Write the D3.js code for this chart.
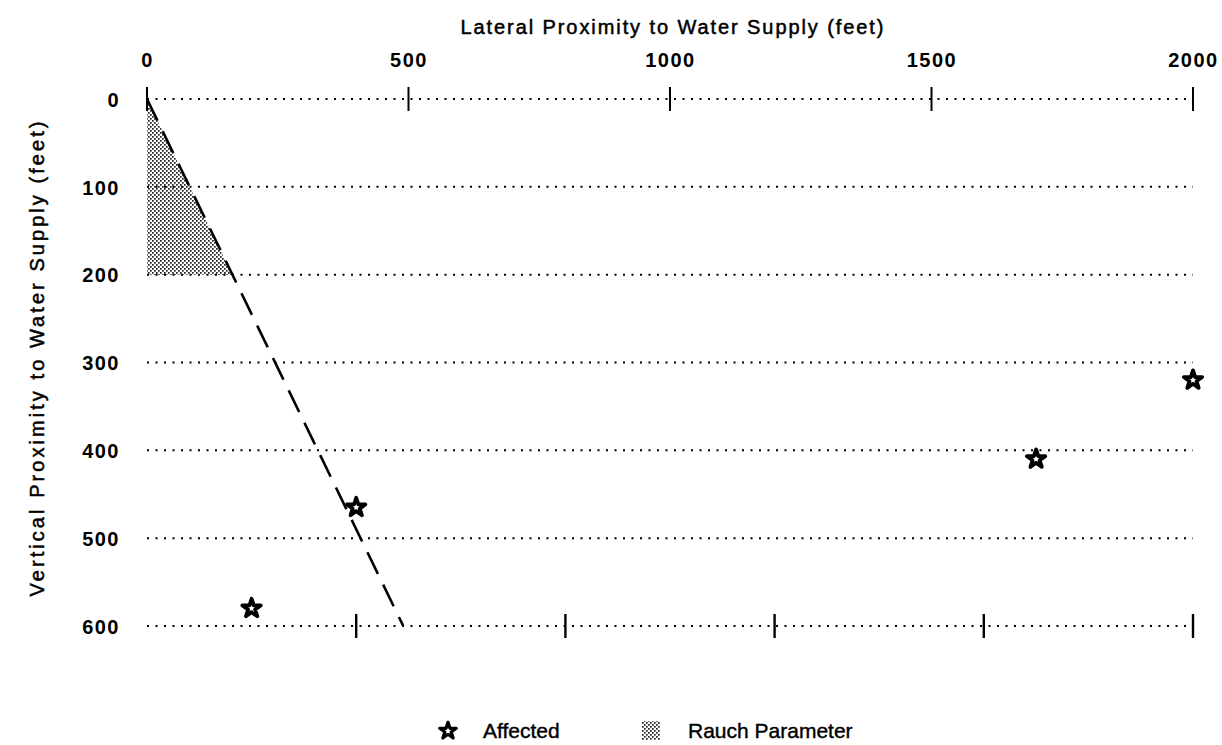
<!DOCTYPE html>
<html><head><meta charset="utf-8">
<script src="https://cdn.jsdelivr.net/npm/d3@7"></script>
<style>
body{margin:0;background:#fff;}
text{font-family:"Liberation Sans",Arial,Helvetica,sans-serif;fill:#000;}
</style></head>
<body><svg id="chart" width="1222" height="745"></svg>
<script>
// ---- data ----
const lateralTicks = [0, 500, 1000, 1500, 2000];
const bottomTicks = [400, 800, 1200, 1600, 2000];
const verticalTicks = [0, 100, 200, 300, 400, 500, 600];
const affectedLateral = [200, 400, 1700, 2000];
const affectedVertical = [580, 465, 410, 320];
const rauchLateral = [0, 0, 163];
const rauchVertical = [0, 200, 200];
const dashLateral = [0, 490];
const dashVertical = [0, 600];
const xTitle = "Lateral Proximity to Water Supply (feet)";
const yTitle = "Vertical Proximity to Water Supply (feet)";
const legendLabels = ["Affected", "Rauch Parameter"];

const svg = d3.select("#chart");
const x = d3.scaleLinear().domain([0, 2000]).range([147, 1193]);
const y = d3.scaleLinear().domain([0, 600]).range([99, 626]);

// stipple pattern
const defs = svg.append("defs");
const pat = defs.append("pattern").attr("id", "stip").attr("patternUnits", "userSpaceOnUse")
  .attr("width", 4).attr("height", 4);
pat.append("rect").attr("width", 4).attr("height", 4).attr("fill", "#fff");
pat.append("rect").attr("x", 0).attr("y", 0).attr("width", 1.7).attr("height", 1.7).attr("fill", "#222");
pat.append("rect").attr("x", 2).attr("y", 2).attr("width", 1.7).attr("height", 1.7).attr("fill", "#222");

// shaded Rauch region
svg.append("path")
  .attr("d", d3.line()(rauchLateral.map((d, i) => [x(d), y(rauchVertical[i])])) + "Z")
  .attr("fill", "url(#stip)");

// grid dotted lines
svg.append("g").selectAll("line").data(verticalTicks).join("line")
  .attr("x1", x(0)).attr("x2", x(2000))
  .attr("y1", d => y(d)).attr("y2", d => y(d))
  .attr("stroke", "#000").attr("stroke-width", 2).attr("stroke-dasharray", "2,6.5");

// top axis
const topAxis = d3.axisTop(x).tickValues(lateralTicks).tickSize(0).tickPadding(0).tickFormat(d3.format("d"));
const gTop = svg.append("g").attr("transform", `translate(0,${y(0)})`).call(topAxis);
gTop.select(".domain").remove();
gTop.selectAll("text").attr("y", 67 - y(0)).attr("dy", 0)
  .style("font-size", "20px").style("font-weight", "bold").style("letter-spacing", "1.5px").attr("fill", "#000");
svg.append("g").selectAll("line").data(lateralTicks).join("line")
  .attr("x1", d => x(d)).attr("x2", d => x(d)).attr("y1", y(0) - 12).attr("y2", y(0) + 12)
  .attr("stroke", "#000").attr("stroke-width", 2);

// bottom ticks
svg.append("g").selectAll("line").data(bottomTicks).join("line")
  .attr("x1", d => x(d)).attr("x2", d => x(d)).attr("y1", y(600) - 12).attr("y2", y(600) + 12)
  .attr("stroke", "#000").attr("stroke-width", 2.4);

// left axis labels
const leftAxis = d3.axisLeft(y).tickValues(verticalTicks).tickSize(0).tickPadding(0).tickFormat(d3.format("d"));
const gLeft = svg.append("g").attr("transform", `translate(120,0)`).call(leftAxis);
gLeft.select(".domain").remove();
gLeft.selectAll("text").attr("x", 0).attr("dy", "0.36em")
  .style("font-size", "20px").style("font-weight", "bold").style("letter-spacing", "1.5px").attr("fill", "#000");

// titles
svg.append("text").attr("x", 672).attr("y", 34).attr("text-anchor", "middle")
  .attr("textLength", 423).attr("lengthAdjust", "spacing")
  .attr("stroke", "#000").attr("stroke-width", 0.5)
  .style("font-size", "20px").text(xTitle);
svg.append("text").attr("transform", "translate(44,359) rotate(-90)").attr("text-anchor", "middle")
  .attr("textLength", 475).attr("lengthAdjust", "spacing")
  .attr("stroke", "#000").attr("stroke-width", 0.5)
  .style("font-size", "20px").text(yTitle);

// dashed line
svg.append("path")
  .attr("d", d3.line()(dashLateral.map((d, i) => [x(d), y(dashVertical[i])])))
  .attr("stroke", "#000").attr("stroke-width", 2.6).attr("fill", "none").attr("stroke-dasharray", "24,12");

// stars
const star = d3.symbol().type(d3.symbolStar).size(105);
svg.append("g").selectAll("path").data(affectedLateral).join("path")
  .attr("transform", (d, i) => `translate(${x(d)},${y(affectedVertical[i])})`)
  .attr("d", star).attr("fill", "#fff").attr("stroke", "#000").attr("stroke-width", 3.8).attr("stroke-linejoin", "round");

// legend
const lg = svg.append("g");
lg.append("path").attr("transform", "translate(448,731)").attr("d", d3.symbol().type(d3.symbolStar).size(85))
  .attr("fill", "#fff").attr("stroke", "#000").attr("stroke-width", 3.2).attr("stroke-linejoin", "round");
lg.append("text").attr("x", 483).attr("y", 738).attr("stroke", "#000").attr("stroke-width", 0.4)
  .style("font-size", "21px").text(legendLabels[0]);
lg.append("rect").attr("x", 642).attr("y", 721).attr("width", 18).attr("height", 19).attr("fill", "url(#stip)");
lg.append("text").attr("x", 688).attr("y", 738).attr("stroke", "#000").attr("stroke-width", 0.4)
  .style("font-size", "21px").text(legendLabels[1]);
</script></body></html>
